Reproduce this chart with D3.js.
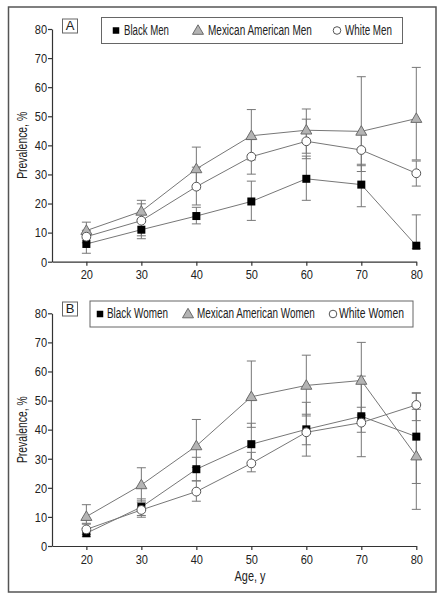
<!DOCTYPE html>
<html><head><meta charset="utf-8">
<script src="https://cdn.jsdelivr.net/npm/d3@7"></script>
<style>body{margin:0;background:#fff}</style>
</head><body><svg id="c" width="443" height="600"></svg>
<script>
const ages = [20, 30, 40, 50, 60, 70, 80];
const yTicks = [0, 10, 20, 30, 40, 50, 60, 70, 80];

// Panel A – Men
const blackMen   = [6.1, 11.0, 15.7, 20.7, 28.5, 26.5, 5.5];
const blackMenLo = [2.9, 7.9, 13.0, 14.2, 21.1, 18.9, 4.5];
const blackMenHi = [9.3, 14.3, 18.7, 27.7, 36.3, 33.5, 16.1];
const mexMen     = [10.7, 17.3, 31.9, 43.3, 45.2, 44.8, 49.2];
const mexMenLo   = [7.9, 13.6, 25.0, 35.0, 37.3, 31.0, 35.0];
const mexMenHi   = [13.6, 21.1, 39.4, 52.3, 52.5, 63.6, 66.8];
const whiteMen   = [8.6, 14.1, 25.8, 36.1, 41.4, 38.4, 30.4];
const whiteMenLo = [6.5, 8.9, 19.5, 30.1, 35.4, 33.0, 26.0];
const whiteMenHi = [10.8, 19.9, 32.5, 42.0, 49.0, 44.0, 34.6];

// Panel B – Women
const blackWomen   = [4.4, 13.4, 26.4, 35.0, 40.1, 44.6, 37.6];
const blackWomenLo = [3.2, 10.5, 22.4, 28.5, 34.8, 39.1, 21.5];
const blackWomenHi = [6.0, 16.2, 30.5, 42.2, 45.3, 47.7, 52.5];
const mexWomen     = [10.1, 21.0, 34.4, 51.3, 55.2, 56.9, 30.9];
const mexWomenLo   = [7.8, 15.5, 27.0, 40.8, 44.7, 45.0, 12.6];
const mexWomenHi   = [14.2, 26.9, 43.5, 63.6, 65.6, 70.0, 47.0];
const whiteWomen   = [5.7, 12.4, 18.7, 28.4, 39.1, 42.4, 48.5];
const whiteWomenLo = [4.0, 9.9, 15.4, 25.5, 30.9, 30.7, 43.1];
const whiteWomenHi = [7.5, 15.0, 22.4, 32.2, 49.4, 58.4, 52.7];

const legendMen = ["Black Men", "Mexican American Men", "White Men"];
const legendWomen = ["Black Women", "Mexican American Women", "White Women"];

const font = "'Liberation Sans',Arial,sans-serif";
const svg = d3.select("#c");
svg.append("rect").attr("width", 443).attr("height", 600).attr("fill", "#fff");
svg.append("rect").attr("x", 8.5).attr("y", 7).attr("width", 427.5).attr("height", 585)
  .attr("fill", "none").attr("stroke", "#555").attr("stroke-width", 1.5);

const x = d3.scaleLinear().domain([13.75, 80]).range([52, 416.3]);

// text squeezed horizontally to mimic a narrow typeface
function fitText(parent, tx, ty, str, size, width, anchor, rotate) {
  const wrap = parent.append("g");
  const t = wrap.append("text").attr("text-anchor", anchor || "start").attr("dominant-baseline", "middle")
    .style("font-family", font).style("font-size", size + "px").attr("fill", "#222").text(str);
  const nat = t.node().getComputedTextLength();
  const s = width / nat;
  wrap.attr("transform", `translate(${tx},${ty})${rotate ? " rotate(" + rotate + ")" : ""} scale(${s},1)`);
  return wrap;
}

function drawMarker(g, type, cx, cy, small) {
  if (type === "square") {
    const s = small ? 6.5 : 8;
    g.append("rect").attr("x", cx - s / 2).attr("y", cy - s / 2).attr("width", s).attr("height", s)
      .attr("fill", "#000");
  } else if (type === "triangle") {
    const w = 11, h = 9.5;
    g.append("path").attr("d", `M${cx},${cy - h * 0.6}L${cx + w / 2},${cy + h * 0.4}L${cx - w / 2},${cy + h * 0.4}Z`)
      .attr("fill", "#b4b4b4").attr("stroke", "#6a6a6a").attr("stroke-width", 1);
  } else {
    g.append("circle").attr("cx", cx).attr("cy", cy).attr("r", small ? 3.8 : 4.4)
      .attr("fill", "#fff").attr("stroke", "#555").attr("stroke-width", 1);
  }
}

function panel(cfg) {
  const y = d3.scaleLinear().domain([0, 80]).range([cfg.y0, cfg.y0 - 232.7]);
  const g = svg.append("g");

  const ya = g.append("g").attr("transform", "translate(52,0)")
    .call(d3.axisLeft(y).tickValues(yTicks).tickSize(4).tickSizeOuter(0).tickPadding(2));
  const xa = g.append("g").attr("transform", `translate(0,${cfg.y0})`)
    .call(d3.axisBottom(x).tickValues(ages).tickSize(4).tickSizeOuter(0).tickPadding(4));
  [ya, xa].forEach(a => {
    a.select(".domain").attr("stroke", "#333").attr("stroke-width", 1.2);
    a.selectAll(".tick line").attr("stroke", "#333").attr("stroke-width", 1.2);
    a.selectAll(".tick text").attr("fill", "#222").style("font-family", font).style("font-size", "13.5px")
      .attr("transform", "scale(0.82,1)");
  });

  fitText(g, 23, y(40), "Prevalence, %", 14, 67, "middle", -90);

  // panel label
  g.append("rect").attr("x", 62.5).attr("y", cfg.labY).attr("width", 15).attr("height", 14)
    .attr("fill", "#fff").attr("stroke", "#666").attr("stroke-width", 1);
  g.append("text").attr("x", 70).attr("y", cfg.labY + 7.5).attr("text-anchor", "middle")
    .attr("dominant-baseline", "middle").style("font-family", font).style("font-size", "13px")
    .attr("fill", "#222").text(cfg.label);

  // legend
  const L = cfg.legend;
  g.append("rect").attr("x", L.x).attr("y", L.y).attr("width", L.w).attr("height", 26)
    .attr("fill", "#fff").attr("stroke", "#666").attr("stroke-width", 1);
  cfg.series.forEach((s, i) => {
    drawMarker(g, s.type, L.mx[i], L.y + 13, true);
    fitText(g, L.tx[i], L.y + 13.5, L.names[i], 14.5, L.tw[i], "start");
  });

  const line = d3.line().x((d, i) => x(ages[i])).y(d => y(d));
  cfg.series.forEach(s => {
    g.append("path").attr("d", line(s.v)).attr("fill", "none").attr("stroke", "#777").attr("stroke-width", 1);
  });
  cfg.series.forEach(s => {
    ages.forEach((a, i) => {
      const cx = x(a);
      g.append("line").attr("x1", cx).attr("x2", cx).attr("y1", y(s.lo[i])).attr("y2", y(s.hi[i]))
        .attr("stroke", "#777").attr("stroke-width", 1);
      [s.lo[i], s.hi[i]].forEach(v => {
        g.append("line").attr("x1", cx - 4.5).attr("x2", cx + 4.5).attr("y1", y(v)).attr("y2", y(v))
          .attr("stroke", "#777").attr("stroke-width", 1);
      });
    });
  });
  cfg.series.forEach(s => {
    ages.forEach((a, i) => drawMarker(g, s.type, x(a), y(s.v[i]), false));
  });

  if (cfg.xlabel) {
    fitText(g, 250, cfg.y0 + 31, cfg.xlabel, 14, 31, "middle");
  }
}

panel({
  y0: 261.7, label: "A", labY: 19,
  legend: { x: 101.5, y: 17.5, w: 301, mx: [116, 198, 337], tx: [124, 208, 345], tw: [45, 104, 47], names: legendMen },
  series: [
    { type: "square", v: blackMen, lo: blackMenLo, hi: blackMenHi },
    { type: "triangle", v: mexMen, lo: mexMenLo, hi: mexMenHi },
    { type: "circle", v: whiteMen, lo: whiteMenLo, hi: whiteMenHi }
  ]
});
panel({
  y0: 546, label: "B", labY: 302,
  legend: { x: 90, y: 301, w: 323, mx: [100, 188, 333], tx: [107, 197, 339], tw: [61, 118, 65], names: legendWomen },
  series: [
    { type: "square", v: blackWomen, lo: blackWomenLo, hi: blackWomenHi },
    { type: "triangle", v: mexWomen, lo: mexWomenLo, hi: mexWomenHi },
    { type: "circle", v: whiteWomen, lo: whiteWomenLo, hi: whiteWomenHi }
  ],
  xlabel: "Age, y"
});
</script>
</body></html>
